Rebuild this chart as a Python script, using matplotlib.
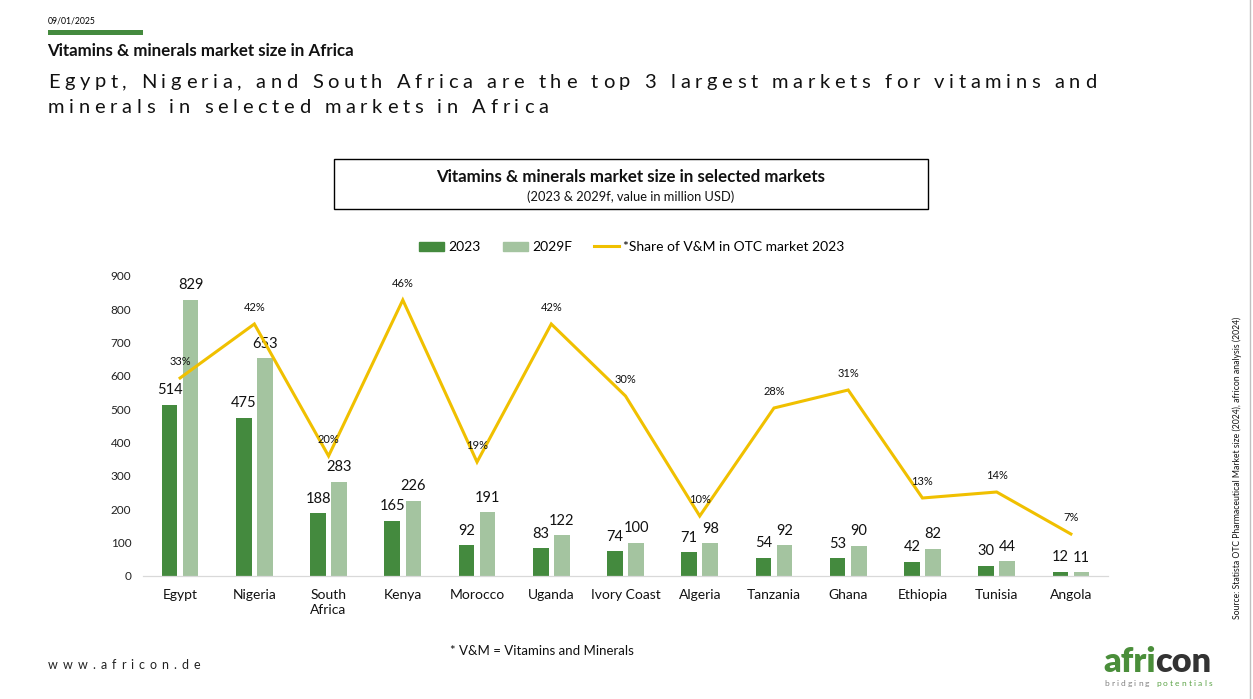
import matplotlib
matplotlib.use("Agg")
import matplotlib.pyplot as plt
from matplotlib.patches import Patch, Rectangle
from matplotlib.lines import Line2D
import numpy as np

plt.rcParams['font.family'] = ['Lato', 'DejaVu Sans']

# ---------------- data ----------------
countries = ["Egypt", "Nigeria", "South\nAfrica", "Kenya", "Morocco", "Uganda",
             "Ivory Coast", "Algeria", "Tanzania", "Ghana", "Ethiopia", "Tunisia", "Angola"]
vals_2023 = [514, 475, 188, 165, 92, 83, 74, 71, 54, 53, 42, 30, 12]
vals_2029 = [829, 653, 283, 226, 191, 122, 100, 98, 92, 90, 82, 44, 11]
share_otc = [0.33, 0.42, 0.20, 0.46, 0.19, 0.42, 0.30, 0.10, 0.28, 0.31, 0.13, 0.14, 0.07]
y_ticks = [0, 100, 200, 300, 400, 500, 600, 700, 800, 900]

DARK = "#448A3E"
LIGHT = "#A4C4A0"
GOLD = "#F0C000"
W, H = 1253, 699

fig = plt.figure(figsize=(W / 100, H / 100), dpi=100)
renderer = fig.canvas.get_renderer()


def fx(px):
    return px / W


def fy(py):
    return 1 - py / H


def text_w(s, **kw):
    t = fig.text(0, 0, s, **kw)
    w = t.get_window_extent(renderer).width
    t.remove()
    return w


def adv(s, **kw):
    return text_w(s + "|", **kw) - text_w("|", **kw)


def spaced(x0, y, s, spacing=None, target=None, colors=None, **kw):
    """Draw text char by char with extra letter spacing (pixels)."""
    pos = [adv(s[:i], **kw) if i > 0 else 0 for i in range(len(s))]
    total = text_w(s, **kw)
    if target is not None:
        spacing = (target - total) / (len(s) - 1)
    for i, ch in enumerate(s):
        if ch == " ":
            continue
        c = colors[i] if colors is not None else kw.get("color", "black")
        kw2 = dict(kw)
        kw2["color"] = c
        fig.text(fx(x0 + pos[i] + i * spacing), fy(y), ch, ha="left", va="baseline", **kw2)
    return spacing


# ---------------- header ----------------
fig.text(fx(48), fy(21), "09/01/2025", fontsize=6.2, ha="left", va="center", color="black")
fig.patches.append(Rectangle((fx(48), fy(35)), fx(143) - fx(48), fy(30) - fy(35),
                             transform=fig.transFigure, color=DARK, lw=0))
fig.text(fx(47), fy(50.5), "Vitamins & minerals market size in Africa", fontsize=12.2,
         fontweight="bold", ha="left", va="center", color="#111111")
sp = spaced(48, 87.5, "Egypt, Nigeria, and South Africa are the top 3 largest markets for vitamins and",
            target=1096 - 48, fontsize=14.5, color="#111111")
spaced(48, 113, "minerals in selected markets in Africa", spacing=sp, fontsize=14.5, color="#111111")

# chart title box
fig.patches.append(Rectangle((fx(334), fy(209)), fx(928) - fx(334), fy(159) - fy(209),
                             transform=fig.transFigure, fill=False, ec="black", lw=1.0))
fig.text(fx(631), fy(176.5), "Vitamins & minerals market size in selected markets", fontsize=12.2,
         fontweight="bold", ha="center", va="center", color="#111111")
fig.text(fx(631), fy(196.5), "(2023 & 2029f, value in million USD)", fontsize=9.3,
         ha="center", va="center", color="#111111")

# ---------------- chart ----------------
ax = fig.add_axes([fx(143), fy(576), fx(1108) - fx(143), fy(276) - fy(576)])
x = np.arange(len(countries))
bw = 0.21
off = 0.142
ax.bar(x - off, vals_2023, bw, color=DARK, zorder=2)
ax.bar(x + off, vals_2029, bw, color=LIGHT, zorder=2)
for xi, v in zip(x, vals_2023):
    ax.annotate(str(v), (xi - off, v), xytext=(0, 10.5), textcoords="offset points",
                ha="center", va="center", fontsize=10.5, color="#111111")
for xi, v in zip(x, vals_2029):
    ax.annotate(str(v), (xi + off, v), xytext=(0, 10.5), textcoords="offset points",
                ha="center", va="center", fontsize=10.5, color="#111111")

ax.set_xlim(-0.5, len(countries) - 0.5)
ax.set_ylim(0, 900)
ax.set_yticks(y_ticks)
ax.set_yticklabels([str(t) for t in y_ticks], fontsize=8.5, color="#222222")
ax.set_xticks(x)
ax.set_xticklabels(countries, fontsize=10, color="#111111", linespacing=1.25)
ax.tick_params(axis="both", length=0)
ax.tick_params(axis="y", pad=8.5)
ax.tick_params(axis="x", pad=9.5)
for s in ["left", "right", "top"]:
    ax.spines[s].set_visible(False)
ax.spines["bottom"].set_color("#D9D9D9")
ax.spines["bottom"].set_linewidth(0.9)
ax.patch.set_alpha(0)

ax2 = ax.twinx()
ax2.set_ylim(0, 0.5)
ax2.set_xlim(-0.5, len(countries) - 0.5)
ax2.axis("off")
ax2.plot(x, share_otc, color=GOLD, lw=2.2, solid_joinstyle="miter", zorder=3)
for xi, v in zip(x, share_otc):
    ax2.annotate(f"{int(round(v * 100))}%", (xi, v), xytext=(0, 12), textcoords="offset points",
                 ha="center", va="center", fontsize=8, color="#111111")

# legend
handles = [Patch(color=DARK), Patch(color=LIGHT), Line2D([0], [0], color=GOLD, lw=2.2)]
labels = ["2023", "2029F", "*Share of V&M in OTC market 2023"]
fig.legend(handles, labels, loc="center", bbox_to_anchor=(fx(632), fy(247)), ncol=3,
           frameon=False, fontsize=10, handlelength=1.8, handleheight=0.6,
           handletextpad=0.3, columnspacing=1.6, borderaxespad=0, borderpad=0)

# ---------------- footer ----------------
fig.text(fx(450), fy(651), "* V&M = Vitamins and Minerals", fontsize=9.5, ha="left",
         va="center", color="#111111")
spaced(48, 669, "www.africon.de", target=200 - 48, fontsize=9, color="#222222")
fig.text(fx(1237), fy(468),
         "Source: Statista OTC Pharmaceutical Market size (2024), africon analysis (2024)",
         rotation=90, fontsize=6.2, ha="center", va="center", color="#111111")

# logo
logo_kw = dict(fontweight="heavy")
base_w = text_w("africon", fontsize=20, **logo_kw)
lsz = 20 * 109 / base_w
w_afri = adv("afri", fontsize=lsz, **logo_kw)
fig.text(fx(1103), fy(672), "afri", fontsize=lsz, color="#4A8E3A",
         ha="left", va="baseline", **logo_kw)
fig.text(fx(1103 + w_afri), fy(672), "con", fontsize=lsz,
         color="#333333", ha="left", va="baseline", **logo_kw)
bp = "bridging potentials"
cols = ["#808080"] * 9 + ["#5BA346"] * 10
spaced(1104, 686, bp, target=108, fontsize=6.0, colors=cols)

# right border
fig.add_artist(Line2D([fx(1250), fx(1250)], [0, 1], transform=fig.transFigure,
                      color="#BFBFBF", lw=1))

fig.savefig("out.png", dpi=100)
